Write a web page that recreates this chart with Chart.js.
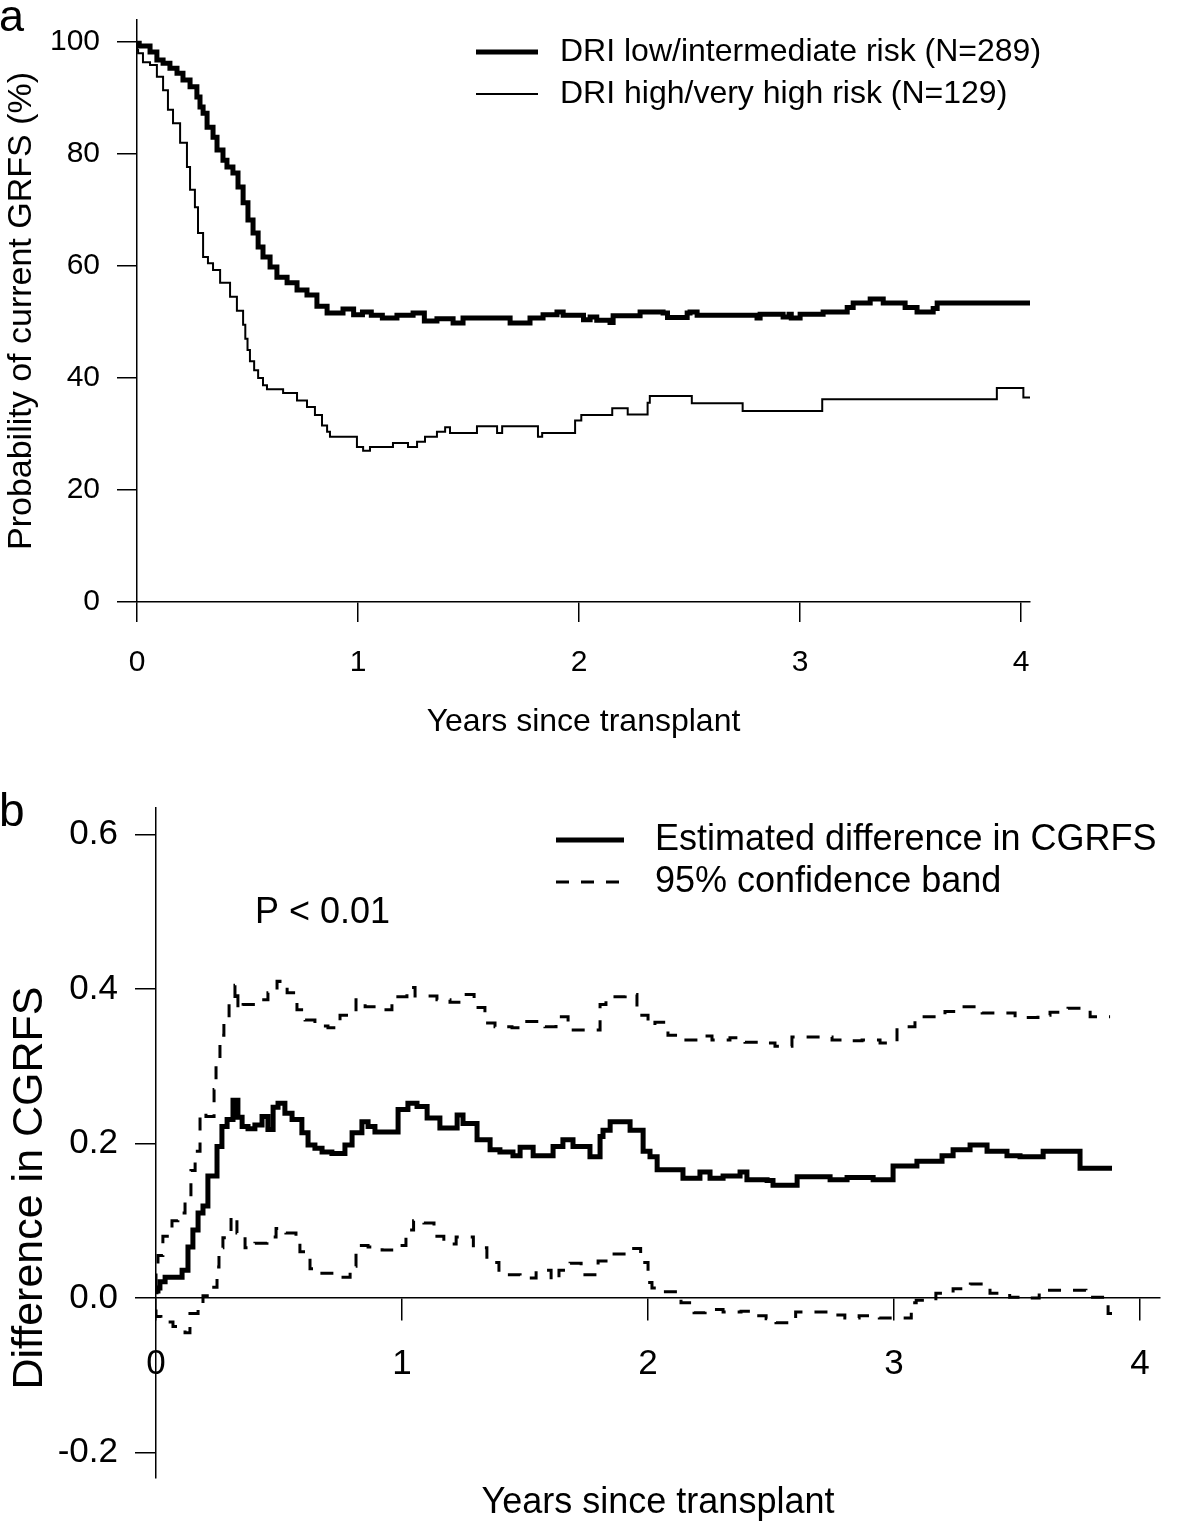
<!DOCTYPE html>
<html>
<head>
<meta charset="utf-8">
<title>Current GRFS by DRI</title>
<script src="https://cdn.jsdelivr.net/npm/chart.js@4.4.1/dist/chart.umd.min.js"></script>
<style>
  body { margin: 0; background: #fff; }
  #wrap { position: relative; width: 1182px; height: 1526px; }
  canvas { position: absolute; left: 0; }
  #chartA { top: 0; }
  #chartB { top: 760px; }
</style>
</head>
<body>
<div id="wrap">
  <canvas id="chartA" width="1182" height="760"></canvas>
  <canvas id="chartB" width="1182" height="766"></canvas>
</div>
<script>
const FONT = "'Liberation Sans', Arial, sans-serif";

// Panel a: probability of current GRFS (%) by years since transplant
const lowRiskYears = [0, 0.01, 0.059, 0.09, 0.118, 0.149, 0.181, 0.208, 0.24, 0.271, 0.285, 0.299, 0.317, 0.344, 0.362, 0.389, 0.407, 0.434, 0.457, 0.48, 0.502, 0.525, 0.548, 0.57, 0.602, 0.633, 0.679, 0.724, 0.769, 0.814, 0.86, 0.932, 0.98, 1.02, 1.06, 1.11, 1.176, 1.249, 1.30, 1.357, 1.43, 1.475, 1.688, 1.778, 1.837, 1.90, 1.928, 2.02, 2.05, 2.08, 2.14, 2.154, 2.276, 2.38, 2.40, 2.489, 2.502, 2.534, 2.805, 2.819, 2.923, 2.95, 2.96, 3.0, 3.104, 3.213, 3.24, 3.317, 3.376, 3.475, 3.529, 3.602, 3.62, 3.76, 4.04];
const lowRiskGRFS = [100, 99.8, 99.3, 98.2, 96.8, 96.2, 95.3, 94.4, 93.2, 92, 90.2, 88.4, 87.3, 84.8, 83, 80.7, 78.9, 77.7, 76.6, 74.1, 71.3, 68.2, 65.9, 63.4, 61.6, 59.8, 58, 57, 55.7, 54.8, 52.8, 51.6, 52.3, 51.3, 51.8, 51.2, 50.7, 51.2, 51.6, 50.2, 50.6, 49.8, 50.7, 49.8, 50.7, 51.3, 51.8, 51.2, 50.4, 50.9, 50.3, 49.9, 51.1, 51.8, 51.6, 50.8, 51.6, 51.8, 51.2, 50.7, 51.4, 50.9, 51.4, 50.7, 51.4, 51.8, 52.6, 53.4, 54.1, 53.4, 52.6, 51.8, 52.4, 53.4, 53.4];
const highRiskYears = [0, 0.005, 0.027, 0.059, 0.09, 0.118, 0.14, 0.163, 0.195, 0.226, 0.24, 0.262, 0.276, 0.299, 0.321, 0.344, 0.376, 0.421, 0.452, 0.48, 0.49, 0.50, 0.511, 0.53, 0.548, 0.57, 0.588, 0.661, 0.724, 0.769, 0.805, 0.837, 0.86, 0.873, 0.995, 1.023, 1.054, 1.158, 1.226, 1.267, 1.303, 1.357, 1.394, 1.416, 1.538, 1.629, 1.652, 1.814, 1.833, 1.982, 2.01, 2.15, 2.22, 2.31, 2.32, 2.51, 2.74, 3.10, 3.89, 4.01, 4.04];
const highRiskGRFS = [100, 98.6, 98, 96.4, 95.9, 93.8, 91.4, 87.9, 85.5, 82, 77.7, 73.6, 70.5, 65.9, 61.6, 60.5, 59.3, 57, 54.5, 52, 49.5, 47, 45, 43, 41.4, 40, 38.7, 38, 37.3, 36, 34.8, 33.4, 31.5, 30.4, 29.5, 27.7, 27, 27.7, 28.4, 27.7, 28.6, 29.5, 30.4, 31.2, 30.2, 31.4, 30.2, 31.4, 29.5, 30.2, 32.4, 33.4, 34.6, 33.5, 35.6, 36.8, 35.5, 34.1, 36.2, 38.2, 36.5];
const yearTicks = [0, 1, 2, 3, 4];
const grfsTicks = [0, 20, 40, 60, 80, 100];

// Panel b: estimated difference in CGRFS with 95% confidence band
const diffYears = [0, 0.008, 0.016, 0.037, 0.106, 0.13, 0.15, 0.171, 0.191, 0.211, 0.248, 0.268, 0.289, 0.313, 0.333, 0.35, 0.374, 0.402, 0.431, 0.455, 0.476, 0.496, 0.524, 0.553, 0.593, 0.618, 0.646, 0.675, 0.715, 0.768, 0.797, 0.837, 0.862, 0.89, 0.984, 1.024, 1.061, 1.102, 1.154, 1.224, 1.248, 1.305, 1.358, 1.398, 1.451, 1.48, 1.533, 1.614, 1.654, 1.695, 1.764, 1.805, 1.817, 1.846, 1.927, 1.98, 2.008, 2.037, 2.142, 2.211, 2.252, 2.305, 2.374, 2.402, 2.484, 2.508, 2.606, 2.74, 2.809, 2.915, 2.996, 3.093, 3.195, 3.24, 3.309, 3.378, 3.459, 3.512, 3.606, 3.756, 3.886];
const diffValues = [0.005, 0.009, 0.013, 0.021, 0.027, 0.036, 0.066, 0.088, 0.11, 0.119, 0.158, 0.196, 0.222, 0.231, 0.256, 0.234, 0.222, 0.219, 0.224, 0.235, 0.218, 0.247, 0.252, 0.239, 0.231, 0.214, 0.198, 0.194, 0.189, 0.187, 0.198, 0.214, 0.228, 0.222, 0.215, 0.244, 0.252, 0.248, 0.233, 0.22, 0.237, 0.226, 0.205, 0.192, 0.189, 0.184, 0.195, 0.184, 0.196, 0.205, 0.196, 0.183, 0.209, 0.217, 0.228, 0.217, 0.19, 0.183, 0.166, 0.155, 0.163, 0.155, 0.158, 0.163, 0.153, 0.152, 0.146, 0.157, 0.153, 0.156, 0.153, 0.171, 0.177, 0.184, 0.192, 0.198, 0.19, 0.184, 0.183, 0.19, 0.168];
const upperYears = [0, 0.008, 0.028, 0.065, 0.089, 0.118, 0.142, 0.159, 0.179, 0.203, 0.236, 0.244, 0.26, 0.276, 0.297, 0.321, 0.333, 0.354, 0.415, 0.455, 0.492, 0.504, 0.533, 0.573, 0.606, 0.646, 0.699, 0.748, 0.813, 0.85, 0.902, 0.959, 1.02, 1.053, 1.142, 1.195, 1.244, 1.293, 1.337, 1.378, 1.447, 1.5, 1.581, 1.626, 1.675, 1.805, 1.829, 1.907, 1.955, 2.0, 2.028, 2.081, 2.138, 2.203, 2.26, 2.333, 2.394, 2.476, 2.516, 2.585, 2.748, 2.801, 2.87, 2.943, 3.012, 3.085, 3.207, 3.268, 3.358, 3.492, 3.585, 3.634, 3.707, 3.797, 3.878];
const upperValues = [0.015, 0.035, 0.055, 0.08, 0.1, 0.11, 0.13, 0.165, 0.19, 0.24, 0.235, 0.27, 0.31, 0.34, 0.362, 0.387, 0.405, 0.373, 0.38, 0.386, 0.395, 0.41, 0.405, 0.395, 0.373, 0.36, 0.352, 0.35, 0.366, 0.386, 0.377, 0.373, 0.39, 0.402, 0.391, 0.386, 0.383, 0.393, 0.376, 0.356, 0.351, 0.35, 0.358, 0.351, 0.364, 0.347, 0.38, 0.39, 0.393, 0.366, 0.353, 0.357, 0.34, 0.334, 0.339, 0.334, 0.337, 0.331, 0.33, 0.326, 0.338, 0.334, 0.333, 0.334, 0.33, 0.351, 0.364, 0.371, 0.377, 0.369, 0.363, 0.366, 0.37, 0.375, 0.364];
const lowerYears = [0, 0.02, 0.069, 0.118, 0.138, 0.171, 0.191, 0.224, 0.248, 0.256, 0.272, 0.305, 0.329, 0.362, 0.402, 0.451, 0.488, 0.528, 0.569, 0.585, 0.626, 0.667, 0.74, 0.789, 0.813, 0.862, 0.919, 0.976, 1.016, 1.047, 1.089, 1.13, 1.17, 1.22, 1.29, 1.345, 1.394, 1.415, 1.48, 1.545, 1.606, 1.638, 1.683, 1.728, 1.797, 1.85, 1.92, 1.97, 2.0, 2.016, 2.053, 2.134, 2.187, 2.232, 2.305, 2.378, 2.427, 2.48, 2.52, 2.6, 2.74, 2.8, 2.858, 2.94, 2.987, 3.07, 3.09, 3.17, 3.24, 3.31, 3.39, 3.47, 3.54, 3.59, 3.78, 3.87, 3.886];
const lowerValues = [-0.015, -0.024, -0.031, -0.037, -0.045, -0.02, -0.012, 0.003, 0.014, 0.04, 0.065, 0.078, 0.106, 0.084, 0.065, 0.071, 0.079, 0.09, 0.084, 0.075, 0.06, 0.038, 0.032, 0.027, 0.041, 0.068, 0.066, 0.062, 0.068, 0.088, 0.1, 0.097, 0.08, 0.07, 0.079, 0.065, 0.046, 0.032, 0.03, 0.026, 0.036, 0.023, 0.036, 0.045, 0.03, 0.048, 0.057, 0.064, 0.046, 0.02, 0.013, 0.008, -0.006, -0.019, -0.015, -0.018, -0.017, -0.023, -0.027, -0.032, -0.018, -0.022, -0.026, -0.023, -0.026, -0.026, -0.006, -0.003, 0.006, 0.012, 0.018, 0.006, 0.001, 0, 0.01, 0.001, -0.02];
const diffTicks = [-0.2, 0, 0.2, 0.4, 0.6];
const diffTickLabels = ["-0.2", "0.0", "0.2", "0.4", "0.6"];

function toPoints(xs, ys) {
    return xs.map((x, i) => ({ x: x, y: ys[i] }));
}

// R-style axes: ticks outside, no grid
function axisLines(tickLen) {
    return {
        grid: { drawOnChartArea: false, drawTicks: true, tickLength: tickLen, color: "#000", lineWidth: 1.5 },
        border: { display: true, color: "#000", width: 1.5 }
    };
}

function font(size) {
    return { family: FONT, size: size, lineHeight: 1.2 };
}

function noPadding(s) {
    s.paddingTop = 0; s.paddingBottom = 0; s.paddingLeft = 0; s.paddingRight = 0;
}

function stepLine(label, xs, ys, width, dash) {
    return {
        label: label,
        data: toPoints(xs, ys),
        borderColor: "#000",
        borderWidth: width,
        borderDash: dash || [],
        stepped: "after",
        pointRadius: 0,
        fill: false
    };
}

// Legend + panel letter for a
const panelAText = {
    id: "panelAText",
    afterDraw(chart) {
        const ctx = chart.ctx;
        ctx.save();
        ctx.fillStyle = "#000";
        ctx.strokeStyle = "#000";
        ctx.font = "45px " + FONT;
        ctx.textBaseline = "alphabetic";
        ctx.fillText("a", -1, 31);
        ctx.font = "32px " + FONT;
        ctx.textBaseline = "middle";
        chart.data.datasets.forEach((ds, i) => {
            const y = 52 + i * 42;
            ctx.lineWidth = ds.borderWidth;
            ctx.beginPath();
            ctx.moveTo(476, y);
            ctx.lineTo(538, y);
            ctx.stroke();
            ctx.fillText(ds.label, 560, y);
        });
        ctx.restore();
    }
};

// Legend, P value, y title + panel letter for b
const panelBText = {
    id: "panelBText",
    afterDraw(chart) {
        const ctx = chart.ctx;
        ctx.save();
        ctx.fillStyle = "#000";
        ctx.strokeStyle = "#000";
        ctx.font = "46px " + FONT;
        ctx.textBaseline = "alphabetic";
        ctx.fillText("b", -1, 66);
        ctx.font = "36px " + FONT;
        ctx.textBaseline = "middle";
        chart.data.datasets.slice(0, 2).forEach((ds, i) => {
            const y = 80 + i * 42;
            ctx.lineWidth = ds.borderWidth;
            ctx.setLineDash(ds.borderDash);
            ctx.beginPath();
            ctx.moveTo(556, y);
            ctx.lineTo(624, y);
            ctx.stroke();
            ctx.setLineDash([]);
            ctx.fillText(ds.label, 655, y);
        });
        ctx.fillText("P < 0.01", 255, 153);

        // y axis title sits a bit below the middle of the axis
        ctx.translate(30, 428);
        ctx.rotate(-Math.PI / 2);
        ctx.font = "43px " + FONT;
        ctx.textAlign = "center";
        ctx.fillText("Difference in CGRFS", 0, 0);
        ctx.restore();
    }
};

new Chart(document.getElementById("chartA"), {
    type: "line",
    data: {
        datasets: [
            stepLine("DRI low/intermediate risk (N=289)", lowRiskYears, lowRiskGRFS, 5),
            stepLine("DRI high/very high risk (N=129)", highRiskYears, highRiskGRFS, 2)
        ]
    },
    options: {
        responsive: false,
        animation: false,
        devicePixelRatio: 1,
        layout: { padding: { top: 20, right: 152, left: 0, bottom: 0 } },
        plugins: { legend: { display: false }, tooltip: { enabled: false } },
        scales: {
            x: {
                type: "linear",
                min: 0,
                max: 4.04,
                afterBuildTicks: s => { s.ticks = yearTicks.map(v => ({ value: v })); },
                afterFit: s => { s.height = 158; noPadding(s); },
                ticks: { color: "#000", font: font(30), padding: 23, maxRotation: 0 },
                title: { display: true, text: "Years since transplant", color: "#000", font: font(32), padding: { top: 0, bottom: 19 } },
                ...axisLines(20)
            },
            y: {
                type: "linear",
                min: 0,
                max: 103.93,
                afterBuildTicks: s => { s.ticks = grfsTicks.map(v => ({ value: v })); },
                afterFit: s => { s.width = 137; noPadding(s); },
                ticks: { color: "#000", font: font(30), padding: 17 },
                title: { display: true, text: "Probability of current GRFS (%)", color: "#000", font: font(34), padding: { top: 1, bottom: 0 } },
                ...axisLines(20)
            }
        }
    },
    plugins: [panelAText]
});

new Chart(document.getElementById("chartB"), {
    type: "line",
    data: {
        datasets: [
            stepLine("Estimated difference in CGRFS", diffYears, diffValues, 5),
            stepLine("95% confidence band", upperYears, upperValues, 3, [13, 12]),
            stepLine("95% confidence band (lower)", lowerYears, lowerValues, 3, [13, 12])
        ]
    },
    options: {
        responsive: false,
        animation: false,
        devicePixelRatio: 1,
        layout: { padding: { top: 48, right: 22, left: 0, bottom: 48 } },
        plugins: { legend: { display: false }, tooltip: { enabled: false } },
        scales: {
            x: {
                type: "linear",
                position: { y: 0 },
                min: 0,
                max: 4.081,
                afterBuildTicks: s => { s.ticks = yearTicks.map(v => ({ value: v })); },
                afterFit: s => { s.height = 226.6; noPadding(s); },
                ticks: { color: "#000", font: font(35), padding: 23, maxRotation: 0 },
                title: { display: true, text: "Years since transplant", color: "#000", font: font(36), padding: 0 },
                ...axisLines(22)
            },
            y: {
                type: "linear",
                min: -0.233,
                max: 0.6343,
                afterBuildTicks: s => { s.ticks = diffTicks.map(v => ({ value: v })); },
                afterFit: s => { s.width = 156; noPadding(s); },
                ticks: { color: "#000", font: font(35), padding: 17, callback: (v, i) => diffTickLabels[i] },
                title: { display: false },
                ...axisLines(21)
            }
        }
    },
    plugins: [panelBText]
});
</script>
</body>
</html>
